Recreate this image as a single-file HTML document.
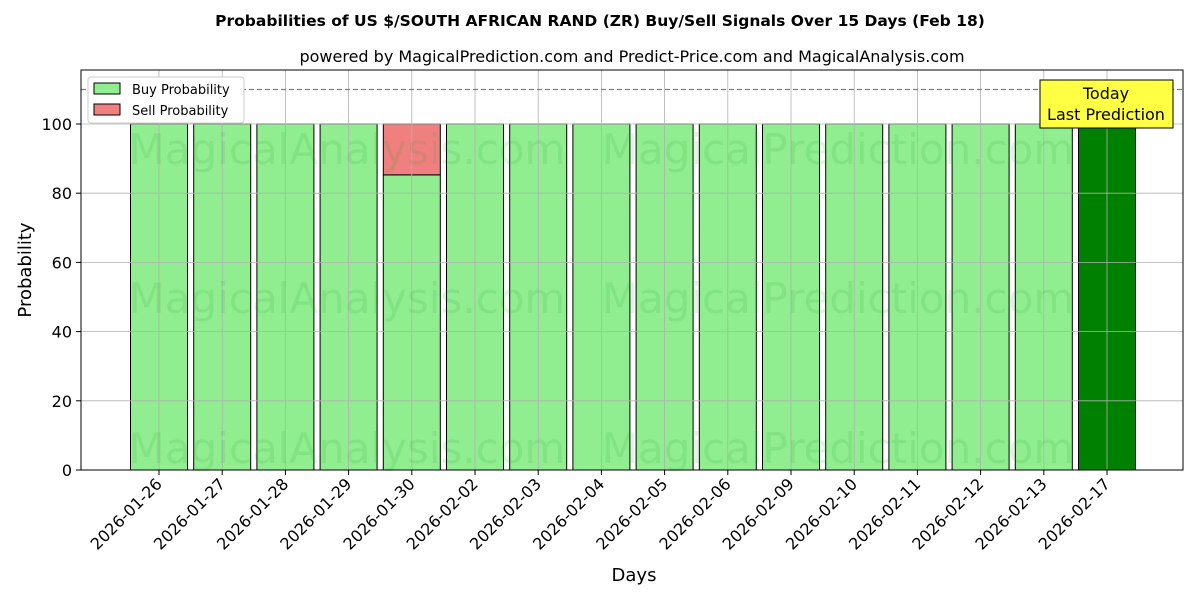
<!DOCTYPE html>
<html><head><meta charset="utf-8"><style>
body{margin:0;background:#fff;font-family:"Liberation Sans","DejaVu Sans",sans-serif}
svg text{font-family:"DejaVu Sans","Liberation Sans",sans-serif}
</style></head><body>
<svg id="c" width="1200" height="600" xmlns="http://www.w3.org/2000/svg">
<text x="600" y="26" text-anchor="middle" font-size="15.5" font-weight="bold">Probabilities of US $/SOUTH AFRICAN RAND (ZR) Buy/Sell Signals Over 15 Days (Feb 18)</text>
<text x="632" y="62" text-anchor="middle" font-size="16">powered by MagicalPrediction.com and Predict-Price.com and MagicalAnalysis.com</text>
<g id="bars"></g><g id="grid"></g><g id="axes"></g>
<g id="wm" fill="#2ca02c" opacity="0.13" font-size="42">
<text x="347" y="164" text-anchor="middle">MagicalAnalysis.com</text>
<text x="838" y="164" text-anchor="middle">MagicalPrediction.com</text>
<text x="347" y="313" text-anchor="middle">MagicalAnalysis.com</text>
<text x="838" y="313" text-anchor="middle">MagicalPrediction.com</text>
<text x="347" y="463" text-anchor="middle">MagicalAnalysis.com</text>
<text x="838" y="463" text-anchor="middle">MagicalPrediction.com</text>
</g>
<line x1="81" y1="89.5" x2="1183" y2="89.5" stroke="#808080" stroke-width="1.3" stroke-dasharray="5,3"/>
<rect x="81" y="70" width="1102" height="400" fill="none" stroke="#000" stroke-width="1"/>
<g>
<rect x="88" y="77" width="156" height="46" fill="#fff" stroke="#ccc" rx="3"/>
<rect x="94" y="83" width="26" height="11" fill="#90ee90" stroke="#000"/>
<text x="132" y="94" font-size="13">Buy Probability</text>
<rect x="94" y="104" width="26" height="11" fill="#f08080" stroke="#000"/>
<text x="132" y="115" font-size="13">Sell Probability</text>
</g>
<g>
<rect x="1040" y="80" width="133" height="48" fill="#ffff44" stroke="#000"/>
<text x="1106" y="99" text-anchor="middle" font-size="16">Today</text>
<text x="1106" y="120" text-anchor="middle" font-size="16">Last Prediction</text>
</g>
<text x="634" y="581" text-anchor="middle" font-size="18">Days</text>
<text transform="translate(31,270) rotate(-90)" text-anchor="middle" font-size="18">Probability</text>
</svg>
<script>
const categories=["2026-01-26","2026-01-27","2026-01-28","2026-01-29","2026-01-30","2026-02-02","2026-02-03","2026-02-04","2026-02-05","2026-02-06","2026-02-09","2026-02-10","2026-02-11","2026-02-12","2026-02-13","2026-02-17"];
const buyValues=[100,100,100,100,85.3,100,100,100,100,100,100,100,100,100,100,100];
const sellValues=[0,0,0,0,14.7,0,0,0,0,0,0,0,0,0,0,0];
const yTicks=[0,20,40,60,80,100];
const NS="http://www.w3.org/2000/svg";
const y=v=>470-v*3.46;
const xc=i=>159+i*63.2;
const bw=57;
function mk(t,a,p){const e=document.createElementNS(NS,t);for(const k in a)e.setAttribute(k,a[k]);p.appendChild(e);return e;}
const bars=document.getElementById('bars'),grid=document.getElementById('grid'),axes=document.getElementById('axes');
categories.forEach((c,i)=>{
  const last=i===categories.length-1;
  const b=mk('rect',{x:xc(i)-bw/2,y:y(buyValues[i]),width:bw,height:y(0)-y(buyValues[i]),fill:last?'#008000':'#90ee90',stroke:'#000','stroke-width':1},bars);
  
  
  if(sellValues[i]>0){
    const s=mk('rect',{x:xc(i)-bw/2,y:y(buyValues[i]+sellValues[i]),width:bw,height:y(buyValues[i])-y(buyValues[i]+sellValues[i]),fill:'#f08080',stroke:'#000','stroke-width':1},bars);
    
    
  }
  const g=mk('line',{x1:xc(i),x2:xc(i),y1:70,y2:470,stroke:'#b0b0b0','stroke-width':0.8},grid);
  
  
  mk('line',{x1:xc(i),x2:xc(i),y1:470,y2:475,stroke:'#000'},axes);
  const t=mk('text',{transform:`translate(${xc(i)+4},${485}) rotate(-45)`,'text-anchor':'end','font-size':16},axes);
  t.textContent=c;
  
  
});
yTicks.forEach(v=>{
  const g=mk('line',{x1:81,x2:1183,y1:y(v),y2:y(v),stroke:'#b0b0b0','stroke-width':0.8},grid);
  
  
  mk('line',{x1:76,x2:81,y1:y(v),y2:y(v),stroke:'#000'},axes);
  const t=mk('text',{x:72,y:y(v)+6,'text-anchor':'end','font-size':16},axes);
  t.textContent=v;
  
  
});
</script>
</body></html>
